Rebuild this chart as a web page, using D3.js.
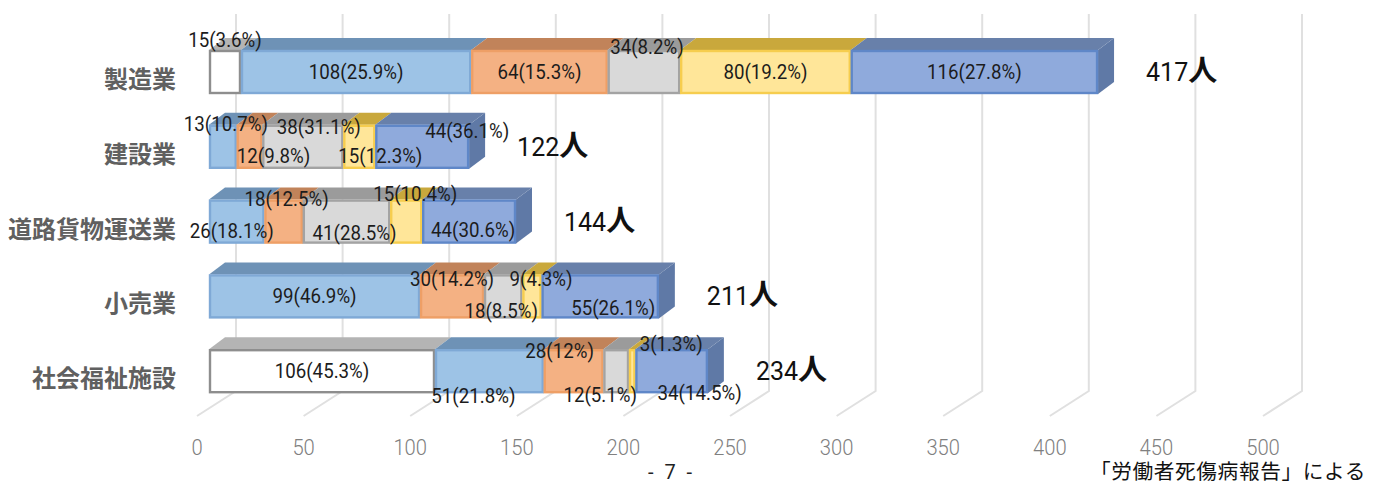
<!DOCTYPE html>
<html><head><meta charset="utf-8">
<script src="https://cdnjs.cloudflare.com/ajax/libs/d3/7.8.5/d3.min.js"></script>
<style>html,body{margin:0;padding:0;background:#fff}svg{display:block}</style></head>
<body><svg id="c" width="1385" height="485"></svg>
<script>
// ---- data ----
const categories = ["製造業","建設業","道路貨物運送業","小売業","社会福祉施設"];
const seriesA = [15,0,0,0,106];
const seriesB = [108,13,26,99,51];
const seriesC = [64,12,18,30,28];
const seriesD = [34,38,41,18,12];
const seriesE = [80,15,15,9,3];
const seriesF = [116,44,44,55,34];
const pctA = ["3.6","","","","45.3"];
const pctB = ["25.9","10.7","18.1","46.9","21.8"];
const pctC = ["15.3","9.8","12.5","14.2","12"];
const pctD = ["8.2","31.1","28.5","8.5","5.1"];
const pctE = ["19.2","12.3","10.4","4.3","1.3"];
const pctF = ["27.8","36.1","30.6","26.1","14.5"];
const axisTicks = [0,50,100,150,200,250,300,350,400,450,500];
const values = [seriesA,seriesB,seriesC,seriesD,seriesE,seriesF];
const pcts = [pctA,pctB,pctC,pctD,pctE,pctF];

// ---- layout & style (separate from the data) ----
const faces = [
 {front:"#ffffff",stroke:"#8e8e8e",top:"#b4b4b4"},
 {front:"#9dc3e6",stroke:"#7fa9d6",top:"#6e92b6"},
 {front:"#f4b183",stroke:"#ee9f66",top:"#c1835a"},
 {front:"#d9d9d9",stroke:"#a3a3a3",top:"#9b9b9b"},
 {front:"#ffe699",stroke:"#f6cd4e",top:"#c9a83c"},
 {front:"#8faadc",stroke:"#5f87c8",top:"#6880aa"}
];
const sideColor = "#5f79a6";
const labelOffsets = [
 [[0,-32],[0,0],[0,0],[3,-25],[0,0],[0,0]],
 [null,[3,-22],[24,10],[16,-19],[21,10],[45,-15]],
 [null,[-5,10],[3,-22],[8,12],[9,-27],[4,9]],
 [null,[0,0],[0,-17],[-2,15],[9,-17],[13,12]],
 [[0,0],[-16,25],[-14,-20],[-16,24],[39,-27],[28,22]]
];
const depthX = 16, depthY = 12, barH = 44;
const labelFont = "Roboto, 'Noto Sans CJK JP', sans-serif";
const cjk = "'Noto Sans CJK JP', sans-serif";

const svg = d3.select("#c");
const x = d3.scaleLinear().domain([0,500]).range([209,209+1066]);
const yFront = d3.scaleBand().domain(categories).range([50,50+74.8*5]).paddingInner(0);
const poly = (g,pts,fill,stroke,sw) => g.append("polygon").attr("points",pts.map(p=>p.join(",")).join(" "))
  .attr("fill",fill).attr("stroke",stroke||"none").attr("stroke-width",sw||0).attr("stroke-linejoin","round");

// gridlines + floor
const grid = svg.append("g").attr("stroke","#e0e0e0").attr("stroke-width",2).attr("fill","none");
axisTicks.forEach(t=>{
  const bx = x(t)+27, fx = x(t)-12;
  grid.append("path").attr("d",d3.line()([[bx,14],[bx,391],[fx,416]]));
});
// axis labels
svg.append("g").selectAll("text").data(axisTicks).join("text")
  .attr("transform",d=>`translate(${x(d)-12},454.5) scale(.94,1)`).attr("text-anchor","middle")
  .attr("font-family",labelFont).attr("font-size",21.5).attr("font-weight",300).attr("fill","#808080").text(d=>d);

// bars
categories.forEach((cat,ci)=>{
  const g = svg.append("g");
  const top = yFront(cat), bot = top+barH;
  let cum = 0;
  const segs = [];
  values.forEach((s,si)=>{
    const v = s[ci];
    if(v>0) segs.push({si,v,x0:x(cum),x1:x(cum+v)});
    cum += v;
  });
  const end = segs[segs.length-1].x1;
  poly(g,[[end,top],[end+depthX,top-depthY],[end+depthX,bot-depthY],[end,bot]],sideColor);
  segs.forEach(s=>{
    const f = faces[s.si];
    poly(g,[[s.x0,top],[s.x1,top],[s.x1+depthX,top-depthY],[s.x0+depthX,top-depthY]],f.top);
  });
  segs.forEach(s=>{
    const f = faces[s.si];
    g.append("rect").attr("x",s.x0+1).attr("y",top+1).attr("width",s.x1-s.x0-2).attr("height",barH-2)
      .attr("fill",f.front).attr("stroke",f.stroke).attr("stroke-width",2.4);
  });
  svg.append("text").attr("x",176).attr("y",top+barH/2+16).attr("text-anchor","end")
    .attr("font-family",cjk).attr("font-weight",700).attr("font-size",24).attr("fill","#606060").text(cat);
});
// data labels on top of everything
categories.forEach((cat,ci)=>{
  const top = yFront(cat), mid = top+barH/2;
  let cum = 0;
  values.forEach((s,si)=>{
    const v = s[ci];
    if(v>0){
      const c = (x(cum)+x(cum+v))/2, o = labelOffsets[ci][si];
      svg.append("text").attr("transform",`translate(${c+o[0]},${mid+o[1]+6.5}) scale(.95,1)`).attr("text-anchor","middle")
        .attr("font-family",labelFont).attr("font-size",19.7).attr("fill","#1c1c1c")
        .text(`${v}(${pcts[si][ci]}%)`);
    }
    cum += v;
  });
  svg.append("text").attr("x",x(cum)+48).attr("y",mid+9).attr("font-family",labelFont)
    .attr("font-size",25).attr("fill","#111")
    .text(cum).append("tspan").attr("font-family",cjk).attr("font-weight",700).attr("font-size",29).text("人");
});
// footer
svg.append("text").attr("x",670).attr("y",479).attr("text-anchor","middle").attr("font-family",labelFont)
  .attr("font-size",20).attr("fill","#222").attr("word-spacing",6).text("- 7 -");
svg.append("text").attr("x",1366).attr("y",479).attr("text-anchor","end").attr("font-family",cjk)
  .attr("font-size",20.7).attr("letter-spacing",0.6).attr("fill","#111").text("「労働者死傷病報告」による");
</script></body></html>
